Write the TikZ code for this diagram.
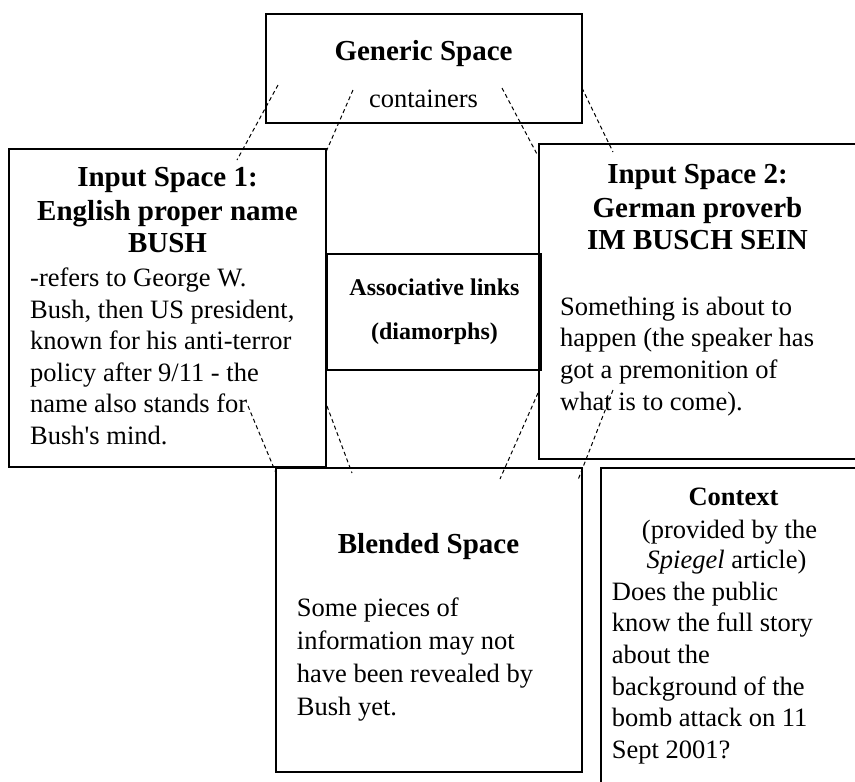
\documentclass[tikz,border=0pt]{standalone}
\usepackage{fontspec}
\setmainfont{Liberation Serif}[Ligatures=TeXOff]
\begin{document}
\begin{tikzpicture}[x=1pt,y=-1pt,
  space/.style={draw, line width=1.6pt, inner sep=0pt, outer sep=0pt},
  head/.style={font=\fontsize{29}{33}\selectfont\bfseries, anchor=base, inner sep=0pt},
  smallhead/.style={font=\fontsize{24}{28}\selectfont\bfseries, anchor=base, inner sep=0pt},
  midhead/.style={font=\fontsize{26.5}{31.5}\selectfont\bfseries, anchor=base, inner sep=0pt},
  body/.style={font=\fontsize{26.5}{31.5}\selectfont, anchor=base west, inner sep=0pt},
  bodyc/.style={font=\fontsize{26.5}{31.5}\selectfont, anchor=base, inner sep=0pt},
  link/.style={dash pattern=on 4pt off 3pt, line width=1pt}]
\useasboundingbox (0,0) rectangle (855,782);

% the six spaces
\node[space, minimum width=316pt, minimum height=109pt] (generic) at (424,68.5) {};
\node[space, minimum width=317pt, minimum height=318pt] (input1) at (167.5,308) {};
\node[space, minimum width=317pt, minimum height=315pt] (input2) at (697.5,301.5) {};
\node[space, minimum width=214pt, minimum height=116pt] (assoc) at (434,312) {};
\node[space, minimum width=306pt, minimum height=304pt] (blend) at (429,620) {};
\node[space, minimum width=261pt, minimum height=327pt] (context) at (731.5,631.5) {};

% generic space
\node[head] (gtitle) at (423.5,60) {Generic Space};
\node[bodyc] (gtext) at (423.5,107) {containers};

% input space 1
\node[head] (i1t1) at (167.5,186.5) {Input Space 1:};
\node[head] (i1t2) at (167.5,220) {English proper name};
\node[head] (i1t3) at (167.5,252.5) {BUSH};
\foreach \t [count=\i from 0] in {{-refers to George W.},{Bush, then US president,},{known for his anti-terror},{policy after 9/11 - the},{name also stands for},{Bush's mind.}}
  \node[body] (i1l\i) at (30,286.5+31.6*\i) {\t};

% input space 2
\node[head] (i2t1) at (697.5,183.3) {Input Space 2:};
\node[head] (i2t2) at (697.5,217.3) {German proverb};
\node[head] (i2t3) at (697.5,249.3) {IM BUSCH SEIN};
\foreach \t [count=\i from 0] in {{Something is about to},{happen (the speaker has},{got a premonition of},{what is to come).}}
  \node[body] (i2l\i) at (560,315+31.7*\i) {\t};

% associative links
\node[smallhead] (at1) at (434.5,295) {Associative links};
\node[smallhead] (at2) at (434.5,339.3) {(diamorphs)};

% blended space
\node[head] (btitle) at (428.5,553.3) {Blended Space};
\foreach \t [count=\i from 0] in {{Some pieces of},{information may not},{have been revealed by},{Bush yet.}}
  \node[body] (bl\i) at (296.7,616.7+32.8*\i) {\t};

% context
\node[midhead] (ctitle) at (733.5,505) {Context};
\node[bodyc] (cs1) at (729.5,538.3) {(provided by the};
\node[bodyc] (cs2) at (726.5,568.3) {\textit{Spiegel} article)};
\foreach \t [count=\i from 0] in {{Does the public},{know the full story},{about the},{background of the},{bomb attack on 11},{Sept 2001?}}
  \node[body] (cl\i) at (611.7,600+31.7*\i) {\t};

% dashed mapping lines
\coordinate (ga) at (278,85);   \coordinate (ia) at (237,160);
\coordinate (gb) at (353,90);   \coordinate (ib) at (326,152);
\coordinate (gc) at (502,88);   \coordinate (ic) at (538,156);
\coordinate (gd) at (582,88);   \coordinate (id) at (613,152);
\coordinate (ja) at (248,406);  \coordinate (ba) at (276,473);
\coordinate (jb) at (327,406);  \coordinate (bb) at (352,473);
\coordinate (jc) at (538,393);  \coordinate (bc) at (500,479);
\coordinate (jd) at (613,390);  \coordinate (bd) at (578,480);
\draw[link] (ga) -- (ia);
\draw[link] (gb) -- (ib);
\draw[link] (gc) -- (ic);
\draw[link] (gd) -- (id);
\draw[link] (ja) -- (ba);
\draw[link] (jb) -- (bb);
\draw[link] (jc) -- (bc);
\draw[link] (jd) -- (bd);
\end{tikzpicture}
\end{document}
